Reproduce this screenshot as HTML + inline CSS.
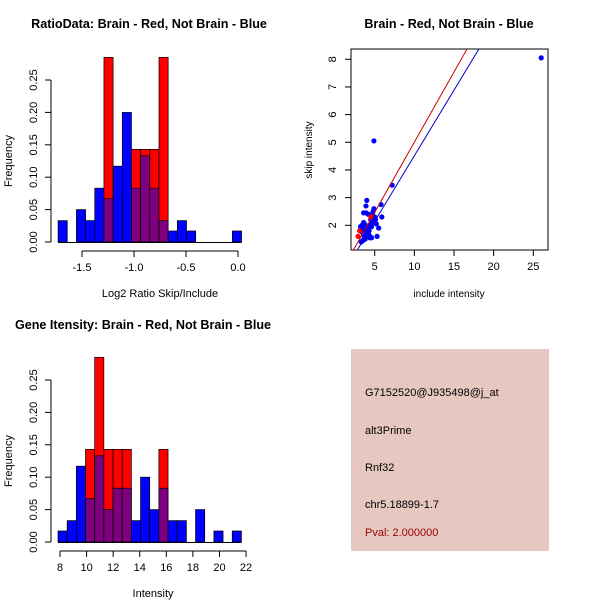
<!DOCTYPE html>
<html><head><meta charset="utf-8"><style>
body{margin:0;background:#fff;}
svg text{font-family:"Liberation Sans",sans-serif;}
</style></head><body>
<svg id="s" width="600" height="600" xmlns="http://www.w3.org/2000/svg">
<rect width="600" height="600" fill="#fff"/>
<text x="149" y="28" font-size="12.6" font-weight="bold" text-anchor="middle">RatioData: Brain - Red, Not Brain - Blue</text>
<text x="449" y="28" font-size="12.6" font-weight="bold" text-anchor="middle">Brain - Red, Not Brain - Blue</text>
<text x="143" y="329" font-size="12.6" font-weight="bold" text-anchor="middle">Gene Itensity: Brain - Red, Not Brain - Blue</text>
<g id="h1"></g>
<g id="h2"></g>
<g id="sc"></g>
<g>
<rect x="351" y="349" width="198" height="202" fill="#E6C8C0"/>
<g font-size="11">
<text x="365" y="396">G7152520@J935498@j_at</text>
<text x="365" y="434">alt3Prime</text>
<text x="365" y="471">Rnf32</text>
<text x="365" y="508">chr5.18899-1.7</text>
<text x="365" y="536" fill="#990000">Pval: 2.000000</text>
</g></g>
</svg>
<script>
const NS="http://www.w3.org/2000/svg";
const ratioBlue=[0.033,0,0.05,0.033,0.083,0.067,0.117,0.2,0.083,0.133,0.083,0.033,0.017,0.033,0.017,0,0,0,0,0.017];
const ratioRed=[0,0,0,0,0,0.285,0,0,0.143,0.143,0.143,0.285,0,0,0,0,0,0,0,0];
const ratioTicks=[-1.5,-1.0,-0.5,0.0];
const intBlue=[0.017,0.033,0.117,0.067,0.133,0.05,0.083,0.083,0.033,0.1,0.05,0.083,0.033,0.033,0,0.05,0,0.017,0,0.017];
const intRed=[0,0,0,0.143,0.285,0.143,0.143,0.143,0,0,0,0.143,0,0,0,0,0,0,0,0];
const intTicks=[8,10,12,14,16,18,20,22];
const freqTicks=[0,0.05,0.10,0.15,0.20,0.25];
const scatterBlueX=[26,4.9,7.2,3.2,3.4,3.6,3.8,4.0,4.2,4.4,4.6,3.3,3.5,3.7,3.9,4.1,4.3,4.5,4.7,4.9,5.1,5.3,5.5,5.8,5.9,3.6,4.0,4.2,3.9,4.8,4.5,3.4,3.8,4.1,4.4,4.6,5.2,3.7,4.3,5.0,3.5,3.9,4.7];
const scatterBlueY=[8.05,5.05,3.45,1.95,2.0,2.1,1.9,1.8,1.7,1.6,1.55,1.4,1.45,1.6,1.75,1.85,2.0,2.2,2.4,2.6,2.2,1.6,1.9,2.75,2.3,2.45,2.9,2.4,2.7,2.5,2.35,1.75,1.5,1.65,1.55,1.95,2.05,2.05,1.8,2.3,1.9,2.45,2.1];
const scatterRedX=[2.9,3.1,4.5];
const scatterRedY=[1.6,1.8,2.3];
const fitRed=[0.507,-0.066], fitBlue=[0.474,-0.227];
const xTicksS=[5,10,15,20,25], yTicksS=[2,3,4,5,6,7,8];
function el(t,a,p){const e=document.createElementNS(NS,t);for(const k in a)e.setAttribute(k,a[k]);p.appendChild(e);return e;}
function hist(g,blue,red,x0,bw,xs,ys,ticks,axY,xlab,tickFmt){
 const X=v=>xs[0]+(v-xs[1])*xs[2], Y=v=>ys[0]-v*ys[1];
 blue.forEach((b,i)=>{const r=red[i];const a=X(x0+i*bw),w=X(x0+(i+1)*bw)-a;
  const hi=Math.max(b,r),lo=Math.min(b,r);
  if(hi>0){const e=el('rect',{x:a,y:Y(hi),width:w,height:Y(0)-Y(hi),fill:r>b?'#ff0000':'#0000ff',stroke:'#000','stroke-width':0.7},g);
  
  }
  if(lo>0){const e=el('rect',{x:a,y:Y(lo),width:w,height:Y(0)-Y(lo),fill:'#7f007f',stroke:'#000','stroke-width':0.7},g);
  
  }});
 el('line',{x1:X(x0),x2:X(x0+blue.length*bw),y1:Y(0)+0.5,y2:Y(0)+0.5,stroke:'#000'},g);
 const ax=el('g',{},g);
 
 
 el('line',{x1:X(ticks[0]),x2:X(ticks[ticks.length-1]),y1:axY,y2:axY,stroke:'#000'},ax);
 ticks.forEach(t=>{el('line',{x1:X(t),x2:X(t),y1:axY,y2:axY+6,stroke:'#000'},ax);
  const tx=el('text',{x:X(t),y:axY+20,'font-size':11,'text-anchor':'middle'},ax);tx.textContent=tickFmt(t);});
 const yx=el('g',{},g);
 
 
 el('line',{x1:51,x2:51,y1:Y(0),y2:Y(0.25),stroke:'#000'},yx);
 freqTicks.forEach(t=>{el('line',{x1:45,x2:51,y1:Y(t),y2:Y(t),stroke:'#000'},yx);
  const tx=el('text',{x:37,y:Y(t),'font-size':11,'text-anchor':'middle',transform:`rotate(-90 37 ${Y(t)})`},yx);tx.textContent=t.toFixed(2);});
 const yl=el('text',{x:12,y:Y(0.125),'font-size':11,'text-anchor':'middle',transform:`rotate(-90 12 ${Y(0.125)})`},g);yl.textContent='Frequency';
 
 
 const xl=el('text',{x:X((ticks[0]+ticks[ticks.length-1])/2),y:axY+46,'font-size':11,'text-anchor':'middle'},g);xl.textContent=xlab;
 
 
}
hist(document.getElementById('h1'),ratioBlue,ratioRed,-1.73,0.0882,[82,-1.5,104],[242,648],ratioTicks,251,'Log2 Ratio Skip/Include',t=>t.toFixed(1));
hist(document.getElementById('h2'),intBlue,intRed,7.85,0.69,[60,8,13.29],[542,648],intTicks,551,'Intensity',t=>String(t));
const g=document.getElementById('sc');
const SX=v=>374.7+(v-5)*7.93, SY=v=>225.3-(v-2)*27.67;
const L=351,R=548,T=49,B=250;
const cp=el('clipPath',{id:'cp'},g);el('rect',{x:L,y:T,width:R-L,height:B-T},cp);
el('rect',{x:L,y:T,width:R-L,height:B-T,fill:'none',stroke:'#000'},g);
scatterBlueX.forEach((x,i)=>{const c=el('circle',{cx:SX(x),cy:SY(scatterBlueY[i]),r:2.6,fill:'#0000ff'},g);
 
 });
scatterRedX.forEach((x,i)=>{const c=el('circle',{cx:SX(x),cy:SY(scatterRedY[i]),r:2.6,fill:'#ff0000'},g);
 
 });
[[fitRed,'#cc0000','fit-line-red'],[fitBlue,'#0000cc','fit-line-blue']].forEach(([f,c,n])=>{
 const l=el('line',{x1:SX(0),y1:SY(f[1]),x2:SX(30),y2:SY(f[0]*30+f[1]),stroke:c,'clip-path':'url(#cp)'},g);
 
 });
xTicksS.forEach(t=>{el('line',{x1:SX(t),x2:SX(t),y1:B,y2:B+6,stroke:'#000'},g);
 const tx=el('text',{x:SX(t),y:B+20,'font-size':11,'text-anchor':'middle'},g);tx.textContent=t;});
yTicksS.forEach(t=>{el('line',{x1:L-6,x2:L,y1:SY(t),y2:SY(t),stroke:'#000'},g);
 const tx=el('text',{x:336,y:SY(t),'font-size':11,'text-anchor':'middle',transform:`rotate(-90 336 ${SY(t)})`},g);tx.textContent=t;});
const sxl=el('text',{x:449,y:297,'font-size':10,'text-anchor':'middle'},g);sxl.textContent='include intensity';


const syl=el('text',{x:312,y:150,'font-size':10,'text-anchor':'middle',transform:'rotate(-90 312 150)'},g);syl.textContent='skip intensity';


</script>
</body></html>
